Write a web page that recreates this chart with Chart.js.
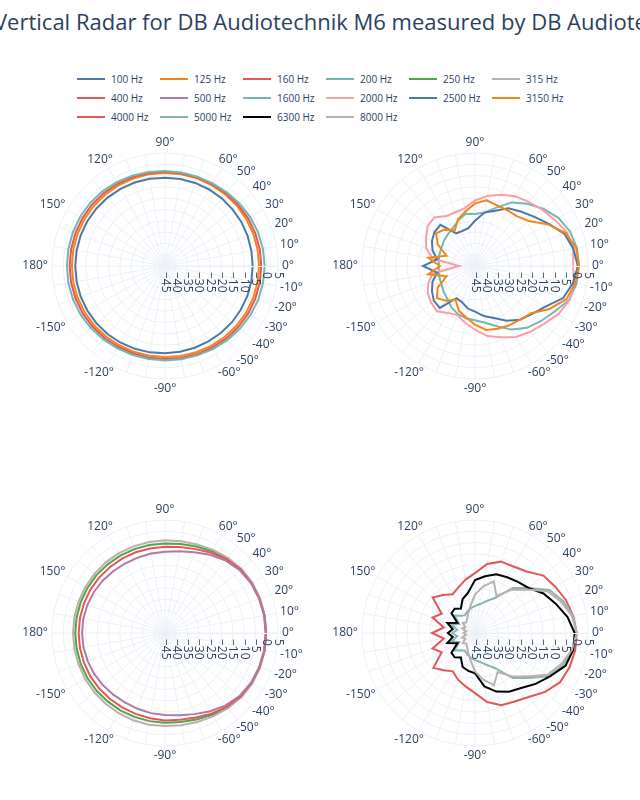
<!DOCTYPE html>
<html><head><meta charset="utf-8">
<script src="https://cdn.jsdelivr.net/npm/chart.js@4.4.1/dist/chart.umd.min.js"></script>
<style>
body{margin:0;width:640px;height:800px;background:#fff;overflow:hidden;position:relative;font-family:"Open Sans",sans-serif;}
#title{position:absolute;left:-6px;top:6px;font-size:22px;line-height:30px;color:#2a3f5f;white-space:nowrap;}
.leg{position:absolute;height:14px;font-size:10px;line-height:14px;color:#2a3f5f;white-space:nowrap;}
.leg span.l{display:inline-block;width:28px;height:2px;vertical-align:middle;margin-right:6px;position:relative;top:-1px;}
canvas{position:absolute;}
</style></head>
<body>
<div id="title">Vertical Radar for DB Audiotechnik M6 measured by DB Audiotechnik</div>
<div id="legend"></div>
<canvas id="c0" width="300" height="300"></canvas>
<canvas id="c1" width="300" height="300"></canvas>
<canvas id="c2" width="300" height="300"></canvas>
<canvas id="c3" width="300" height="300"></canvas>
<script>
// angles (degrees, counterclockwise from 0) for each value index
const angles = [0,10,20,30,40,50,60,70,80,90,100,110,120,130,140,150,160,170,180,-170,-160,-150,-140,-130,-120,-110,-100,-90,-80,-70,-60,-50,-40,-30,-20,-10];
const angleTickLabels = [0,10,20,30,40,50,60,90,120,150,180,-150,-120,-90,-60,-50,-40,-30,-20,-10];
const radialTicks = [5,0,-5,-10,-15,-20,-25,-30,-35,-40,-45];

const freqNames = ['100 Hz','125 Hz','160 Hz','200 Hz','250 Hz','315 Hz','400 Hz','500 Hz','1600 Hz','2000 Hz','2500 Hz','3150 Hz','4000 Hz','5000 Hz','6300 Hz','8000 Hz'];
const freqColors = ['#4C78A8','#F58518','#E45756','#72B7B2','#54A24B','#BAB0AC','#E45756','#B279A2','#72B7B2','#FF9DA6','#4C78A8','#F58518','#E45756','#88B5AE','#000000','#BAB0AC'];

const f100 = [-6.2,-6.2,-6.1,-6.0,-6.0,-5.9,-5.9,-5.9,-5.9,-5.9,-5.8,-5.7,-5.6,-5.5,-5.4,-5.3,-5.3,-5.3,-5.3,-5.3,-5.3,-5.4,-5.5,-5.6,-5.8,-6.0,-6.2,-6.4,-6.5,-6.5,-6.5,-6.4,-6.3,-6.3,-6.2,-6.2];
const f125 = [-3.4,-3.4,-3.4,-3.5,-3.5,-3.6,-3.7,-3.7,-3.8,-3.8,-3.8,-3.8,-3.8,-3.8,-3.8,-3.8,-3.8,-3.8,-3.8,-3.8,-3.9,-4.0,-4.1,-4.3,-4.5,-4.6,-4.7,-4.7,-4.6,-4.4,-4.2,-4.0,-3.8,-3.6,-3.5,-3.4];
const f160 = [-2.4,-2.4,-2.5,-2.6,-2.8,-3.0,-3.2,-3.3,-3.3,-3.3,-3.2,-3.1,-3.0,-2.9,-2.8,-2.8,-2.8,-2.8,-2.8,-2.8,-2.9,-3.0,-3.2,-3.4,-3.6,-3.8,-3.8,-3.8,-3.7,-3.5,-3.3,-3.0,-2.8,-2.6,-2.5,-2.4];
const f200 = [-0.9,-1.0,-1.2,-1.5,-2.0,-2.5,-2.8,-3.0,-3.0,-3.0,-2.8,-2.5,-2.2,-1.9,-1.7,-1.6,-1.6,-1.6,-1.6,-1.6,-1.7,-1.9,-2.2,-2.6,-2.9,-3.1,-3.2,-3.2,-3.1,-2.9,-2.6,-2.2,-1.8,-1.4,-1.1,-1.0];
const f250 = [-0.3,-0.3,-0.4,-0.6,-1.0,-2.0,-3.2,-4.3,-5.0,-5.4,-5.5,-5.5,-5.5,-5.4,-5.3,-5.3,-5.3,-5.3,-5.3,-5.3,-5.3,-5.3,-5.4,-5.5,-5.5,-5.5,-5.4,-5.3,-5.0,-4.3,-3.2,-2.0,-1.0,-0.6,-0.4,-0.3];
const f315 = [-0.2,-0.2,-0.3,-0.5,-0.9,-1.6,-2.5,-3.3,-3.8,-4.0,-4.1,-4.2,-4.2,-4.2,-4.3,-4.3,-4.3,-4.3,-4.3,-4.3,-4.3,-4.2,-4.2,-4.1,-4.0,-3.9,-3.8,-3.8,-3.6,-3.1,-2.4,-1.6,-0.9,-0.5,-0.3,-0.2];
const f400 = [-0.3,-0.3,-0.5,-0.8,-1.3,-2.5,-4.0,-5.5,-6.4,-6.8,-7.0,-7.0,-7.0,-7.0,-6.9,-6.8,-6.8,-6.8,-6.8,-6.8,-6.8,-6.8,-6.9,-7.0,-7.0,-6.9,-6.7,-6.3,-6.0,-5.2,-3.8,-2.4,-1.3,-0.8,-0.5,-0.3];
const f500 = [-0.5,-0.5,-0.7,-1.0,-1.8,-3.2,-5.0,-7.0,-8.3,-9.0,-9.3,-9.5,-9.5,-9.3,-9.0,-8.7,-8.5,-8.3,-8.3,-8.4,-8.6,-8.8,-9.1,-9.4,-9.5,-9.3,-9.0,-8.7,-8.0,-6.8,-5.0,-3.2,-1.8,-1.0,-0.7,-0.5];
const f1600 = [1.0,0.8,-0.3,-2.4,-5.6,-9,-12.5,-17.5,-21,-22,-21.5,-23.5,-25.5,-26.5,-27.2,-28,-28.4,-28.7,-29,-28.7,-28.4,-28,-27,-26,-24,-22.5,-21.5,-21,-19.5,-16.6,-12.5,-9.3,-7,-4.5,-0.8,0.6];
const f2000 = [-1.6,-0.8,-1.6,-4.2,-6.2,-8,-9.4,-11.5,-13.5,-16,-19,-19.7,-19.5,-17,-17.6,-20,-22,-26,-38,-26,-23,-20.9,-19.7,-18.8,-21,-22,-19.5,-16.8,-13.5,-11.5,-8.7,-7,-5.2,-2.4,-0.5,-0.5];
const f2500 = [0.5,-0.8,-3,-7.5,-11,-13.5,-15.5,-19,-21,-25,-28,-28.5,-28.3,-21.2,-21.6,-23,-25,-28,-22,-28,-25,-23,-21.2,-20.8,-28.6,-28,-26,-24.8,-22.5,-20.5,-17,-14,-12,-9,-3.5,-1];
const f3150 = [1,0.5,-2.3,-8,-14,-16.2,-16.5,-16.5,-15.5,-17.3,-20.5,-23,-27,-24,-22.5,-26,-31.6,-24,-29.5,-24,-31.6,-26,-22.9,-25,-27.8,-24,-22,-19,-16.3,-15.5,-14.7,-14,-12.5,-7,-2,0];
const f4000 = [0,-0.9,-2.2,-4,-5.5,-9.5,-11,-11.4,-14,-18.5,-21,-23.5,-25.2,-23,-20.5,-28,-25,-31,-26,-31,-25,-28,-21,-23.5,-25.4,-23,-21,-18.4,-14,-11,-10,-8,-4.5,-1.5,-0.5,0];
const f5000 = [0,-1,-3.5,-7,-14,-19,-27,-30,-32,-33,-34,-35,-36,-35,-33,-37,-34,-37,-35,-37,-34,-37,-33,-35,-36,-35,-34,-33,-32,-30,-27,-19,-14,-7,-3.5,-1];
const f6300 = [-0.9,-3.5,-7,-10,-14,-15.5,-16.5,-17.4,-19.5,-21.6,-27,-29,-32.5,-31,-31.4,-36,-32,-35,-33,-35,-32,-36,-31.4,-31,-32.5,-29,-28,-27.2,-21,-17.4,-15,-13.2,-10,-6.7,-2.4,-0.9];
const f8000 = [0,-1.5,-4.5,-8,-15,-20,-26,-20.7,-24,-28,-33,-36,-38,-39,-38,-40,-39,-41,-40,-41,-39,-40,-38,-39,-38,-36,-33,-28,-24,-20.5,-25,-20,-15,-8,-4.5,-1.5];

const seriesValues = [f100,f125,f160,f200,f250,f315,f400,f500,f1600,f2000,f2500,f3150,f4000,f5000,f6300,f8000];
// which series go in which subplot: top-left, top-right, bottom-left, bottom-right
const subplotSeries = [[0,1,2,3],[8,9,10,11],[4,5,6,7],[12,13,14,15]];
const subplotCenters = [[165,266],[475,266],[165,633],[475,633]];

// legend (HTML text)
const legend = document.getElementById('legend');
freqNames.forEach((n,i)=>{
  const d = document.createElement('div'); d.className='leg';
  d.style.left = (77 + 83*(i%6)) + 'px';
  d.style.top = (72 + 19*Math.floor(i/6)) + 'px';
  d.innerHTML = '<span class="l" style="background:'+freqColors[i]+'"></span>'+n;
  legend.appendChild(d);
});

// radar index i (clockwise from 0°) -> angle -10*i
const N = angles.length;
function toRadarOrder(arr){ const out=[]; for(let i=0;i<N;i++){ out.push(arr[(N-i)%N]); } return out; }
const radarLabels = toRadarOrder(angles);

const labelPlugin = {
  id:'polarLabels',
  afterDraw(chart){
    const s = chart.scales.r, ctx = chart.ctx;
    ctx.save();
    ctx.fillStyle = '#2a3f5f';
    ctx.font = '12px "Open Sans"';
    ctx.textAlign = 'center'; ctx.textBaseline = 'middle';
    angleTickLabels.forEach(a=>{
      const idx = radarLabels.indexOf(a);
      const txt = a + '°';
      const p = s.getPointPosition(idx, s.drawingArea + 4);
      const rad = a*Math.PI/180;
      const w = ctx.measureText(txt).width, h = 12;
      ctx.fillText(txt, p.x + Math.cos(rad)*w/2, p.y - Math.sin(rad)*h/2);
    });
    const p0 = s.getPointPosition(0, s.drawingArea);
    ctx.strokeStyle = '#EBF0F8'; ctx.lineWidth = 1;
    ctx.beginPath(); ctx.moveTo(s.xCenter, s.yCenter+0.5); ctx.lineTo(p0.x, p0.y+0.5); ctx.stroke();
    radialTicks.forEach(v=>{
      const d = s.getDistanceFromCenterForValue(v);
      const txt = (v<0 ? '\u2212' + Math.abs(v) : String(v));
      ctx.save();
      ctx.translate(s.xCenter + d, s.yCenter + 6);
      ctx.rotate(Math.PI/2);
      ctx.textAlign = 'left'; ctx.textBaseline = 'middle';
      ctx.fillText(txt, 0, 0);
      ctx.restore();
    });
    ctx.restore();
  }
};

subplotSeries.forEach((list, k)=>{
  const cv = document.getElementById('c'+k);
  cv.style.left = (subplotCenters[k][0]-150)+'px';
  cv.style.top = (subplotCenters[k][1]-150)+'px';
  const n = list.length;
  new Chart(cv, {
    type:'radar',
    data:{
      labels: radarLabels,
      datasets: list.map((si, j)=>({
        label: freqNames[si],
        data: toRadarOrder(seriesValues[si]),
        borderColor: freqColors[si],
        backgroundColor: freqColors[si],
        borderWidth: 2,
        fill: false,
        pointRadius: 0,
        tension: 0,
        order: n - j
      }))
    },
    options:{
      responsive:false, animation:false, devicePixelRatio:1,
      layout:{padding:37},
      plugins:{legend:{display:false}, tooltip:{enabled:false}},
      scales:{ r:{
        min:-45, max:5, startAngle:90,
        ticks:{display:false, stepSize:5},
        grid:{circular:true, color:'#EBF0F8', lineWidth:1},
        angleLines:{color:'#EBF0F8', lineWidth:1},
        pointLabels:{display:false}
      }}
    },
    plugins:[labelPlugin]
  });
});
</script>
</body></html>
